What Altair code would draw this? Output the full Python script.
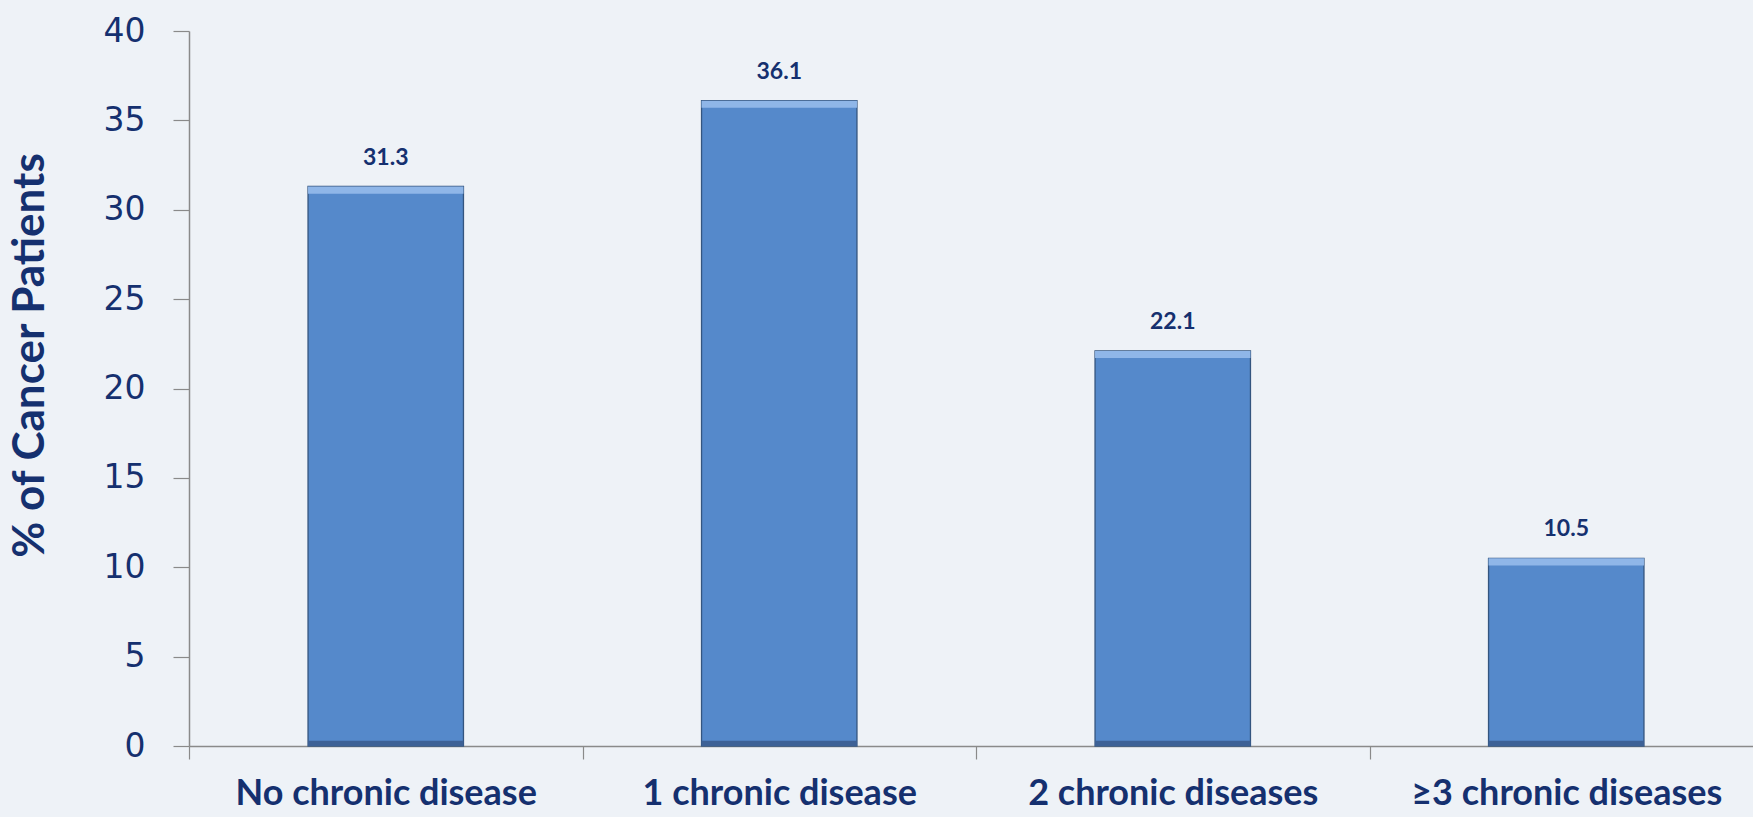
import altair as alt
import pandas as pd

categories = ["No chronic disease", "1 chronic disease", "2 chronic diseases", "\u22653 chronic diseases"]
values = [31.3, 36.1, 22.1, 10.5]
y_ticks = [0, 5, 10, 15, 20, 25, 30, 35, 40]

df = pd.DataFrame({"cat": categories, "val": values})

NAVY = "#15306f"

x = alt.X("cat:N", sort=categories, title=None,
          scale=alt.Scale(paddingInner=0, paddingOuter=0, range=[0, 1574]),
          axis=alt.Axis(labelAngle=0, labelFont="Lato", labelFontWeight="bold",
                        labelFontSize=36, labelColor=NAVY, labelPadding=17,
                        labelLimit=0,
                        tickBand="extent", tickSize=13, tickColor="#8a8a8a",
                        domainColor="#8a8a8a", domainWidth=1.5, tickWidth=1.2,
                        labelOverlap=False))
y = alt.Y("val:Q", title="% of Cancer Patients",
          scale=alt.Scale(domain=[0, 40], nice=False),
          axis=alt.Axis(values=y_ticks, grid=False, labelFont="DejaVu Sans",
                        labelFontSize=33, labelColor=NAVY, labelPadding=28,
                        tickSize=16, tickColor="#8a8a8a", domainColor="#8a8a8a",
                        domainWidth=1.5, tickWidth=1.2,
                        titleFont="Lato", titleFontWeight="bold", titleFontSize=44,
                        titleColor=NAVY, titleX=-159, titleY=324, titleAngle=270,
                        titleAlign="center", titleBaseline="middle"))

base = alt.Chart(df)
bw = alt.RelativeBandSize(0.395)

bars = base.mark_bar(color="#5589cb", stroke="#34557f", strokeWidth=1.3, width=bw).encode(x=x, y=y)

top_hi = base.transform_calculate(lo="datum.val - 0.4").mark_bar(
    color="#8fb6e8", width=bw).encode(x=x, y="val:Q", y2="lo:Q")

bot_dk = base.transform_calculate(lo="0", hi="0.3").mark_bar(
    color="#3d6196", width=bw).encode(x=x, y="hi:Q", y2="lo:Q")

labels = base.mark_text(font="Lato", fontWeight="bold", fontSize=23, color=NAVY,
                        baseline="bottom", dy=-17).encode(
    x=x, y="val:Q", text=alt.Text("val:Q", format=".1f"))

chart = alt.layer(bars, top_hi, bot_dk, labels).properties(
    width=1564, height=715,
    background="#eef2f7",
    padding={"left": 189, "top": 31, "right": 0, "bottom": 71},
    autosize=alt.AutoSizeParams(type="none"),
).configure_view(stroke=None)

chart.save("out.html", embed_options={"renderer": "svg", "actions": False})
